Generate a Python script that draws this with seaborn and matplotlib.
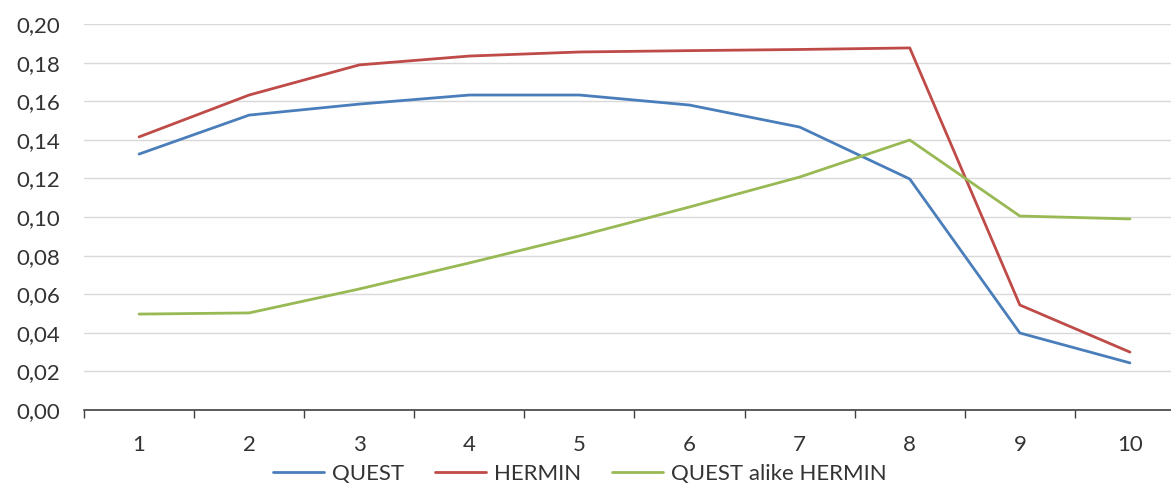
import matplotlib
matplotlib.use("Agg")
import matplotlib.pyplot as plt
import seaborn as sns
import pandas as pd
from matplotlib.ticker import FixedLocator, FuncFormatter

categories = [1, 2, 3, 4, 5, 6, 7, 8, 9, 10]
quest = [0.1326, 0.1528, 0.1585, 0.1632, 0.1632, 0.1580, 0.1466, 0.1197, 0.0399, 0.0244]
hermin = [0.1415, 0.1632, 0.1788, 0.1834, 0.1855, 0.1862, 0.1868, 0.1876, 0.0544, 0.0300]
quest_alike = [0.0497, 0.0503, 0.0627, 0.0762, 0.0902, 0.1052, 0.1207, 0.1399, 0.1005, 0.0990]
series_names = ["QUEST", "HERMIN", "QUEST alike HERMIN"]
y_ticks = [0.00, 0.02, 0.04, 0.06, 0.08, 0.10, 0.12, 0.14, 0.16, 0.18, 0.20]

df = pd.DataFrame({
    "x": categories * 3,
    "value": quest + hermin + quest_alike,
    "series": [series_names[0]] * 10 + [series_names[1]] * 10 + [series_names[2]] * 10,
})

sns.set_style("white")
plt.rcParams['font.family'] = ['Lato', 'DejaVu Sans']

TXT = "#333333"
fig = plt.figure(figsize=(11.71, 4.83), dpi=100)
ax = fig.add_axes([84 / 1171, 1 - 410 / 483, (1185 - 84) / 1171, (410 - 24) / 483])

palette = {"QUEST": "#4A7EBB", "HERMIN": "#BE4B48", "QUEST alike HERMIN": "#98B954"}
sns.lineplot(data=df, x="x", y="value", hue="series", palette=palette,
             linewidth=2.0, ax=ax, legend=True)

ax.set_xlim(0.5, 10.5)
ax.set_ylim(0, 0.20)
ax.yaxis.set_major_locator(FixedLocator(y_ticks))
ax.yaxis.set_major_formatter(FuncFormatter(lambda v, p: f"{v:.2f}".replace(".", ",")))
ax.grid(axis="y", color="#D9D9D9", linewidth=1.0)
ax.set_axisbelow(True)

ax.xaxis.set_major_locator(FixedLocator(categories))
ax.xaxis.set_minor_locator(FixedLocator([c - 0.5 for c in categories]))
ax.tick_params(axis="x", which="both", bottom=True)
ax.tick_params(axis="x", which="major", length=0, pad=18, labelsize=16, labelcolor=TXT)
ax.tick_params(axis="x", which="minor", length=6, width=1.0, color="#404040", direction="out")
ax.tick_params(axis="y", length=0, pad=17, labelsize=16, labelcolor=TXT)

for s in ["top", "right", "left"]:
    ax.spines[s].set_visible(False)
ax.spines["bottom"].set_color("#404040")
ax.spines["bottom"].set_linewidth(1.2)
ax.set_xlabel("")
ax.set_ylabel("")

leg = ax.legend(loc="upper center", bbox_to_anchor=(580 / 1171, 28 / 483),
                bbox_transform=fig.transFigure, ncol=3, frameon=False,
                fontsize=16, handlelength=2.3, handletextpad=0.35, columnspacing=1.4,
                borderaxespad=0)
for t in leg.get_texts():
    t.set_color(TXT)
for line in leg.get_lines():
    line.set_linewidth(2.0)

fig.savefig("out.png", dpi=100)
